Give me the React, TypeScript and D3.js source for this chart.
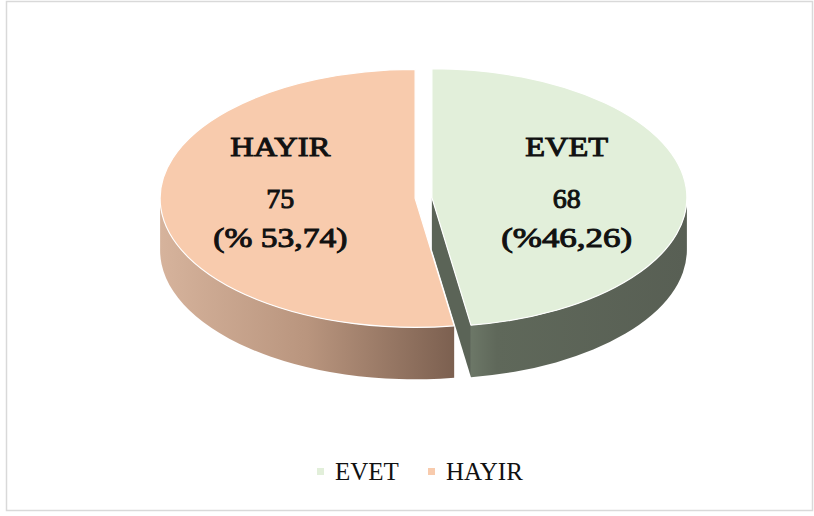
import React from "react";
import * as d3 from "d3";

const categories = ["EVET", "HAYIR"];
const values = [68, 75];
const valueLabels = ["68", "75"];
const percentLabels = ["(%46,26)", "(% 53,74)"];

const topColors = ["#E2EFDA", "#F8CBAD"];
const sideStops = [
  [
    [0, "#6C7767"],
    [0.12, "#5F685A"],
    [1, "#585F54"],
  ],
  [
    [0, "#D6B39C"],
    [0.5, "#B9957E"],
    [1, "#7C6050"],
  ],
];
const wallColors = ["#5B6457", "#8A6D5B"];

export default function App() {
  const W = 814;
  const H = 516;
  const cx = 423.5;
  const cy = 198;
  const Rx = 255;
  const Ry = 129;
  const depth = 52;
  const explode = 0.033;
  const labelR = 0.53;

  const arcs = d3
    .pie<number>()
    .sort(null)
    .startAngle(0)
    .endAngle(2 * Math.PI)
    .value((d) => d)(values);

  const color = d3.scaleOrdinal<string, string>().domain(categories).range(topColors);

  const slices = arcs.map((a, i) => {
    const mid = (a.startAngle + a.endAngle) / 2;
    const ox = explode * Rx * Math.sin(mid);
    const oy = -explode * Ry * Math.cos(mid);
    const P = (t: number, h = 0): [number, number] => [
      cx + ox + Rx * Math.sin(t),
      cy + oy - Ry * Math.cos(t) + h,
    ];
    const apex: [number, number] = [cx + ox, cy + oy];
    const a0 = a.startAngle;
    const a1 = a.endAngle;
    const large = a1 - a0 > Math.PI ? 1 : 0;
    const p0 = P(a0);
    const p1 = P(a1);
    const top = `M${apex[0]},${apex[1]}L${p0[0]},${p0[1]}A${Rx},${Ry} 0 ${large} 1 ${p1[0]},${p1[1]}Z`;

    const s0 = Math.max(a0, Math.PI / 2);
    const s1 = Math.min(a1, (3 * Math.PI) / 2);
    let side = "";
    if (s1 > s0) {
      const q0 = P(s0);
      const q1 = P(s1);
      const q1b = P(s1, depth);
      const q0b = P(s0, depth);
      const lg = s1 - s0 > Math.PI ? 1 : 0;
      side = `M${q0[0]},${q0[1]}A${Rx},${Ry} 0 ${lg} 1 ${q1[0]},${q1[1]}L${q1b[0]},${q1b[1]}A${Rx},${Ry} 0 ${lg} 0 ${q0b[0]},${q0b[1]}Z`;
    }
    const walls: string[] = [];
    const wallAt = (t: number) => {
      const w = P(t);
      const wb = P(t, depth);
      return `M${apex[0]},${apex[1]}L${w[0]},${w[1]}L${wb[0]},${wb[1]}L${apex[0]},${apex[1] + depth}Z`;
    };
    if (Math.sin(a1) > 0.01) walls.push(wallAt(a1));
    if (Math.sin(a0) < -0.01) walls.push(wallAt(a0));

    const xs0 = P(s0)[0];
    const xs1 = P(s1)[0];
    return {
      i,
      top,
      side,
      walls,
      gx0: Math.min(xs0, xs1),
      gx1: Math.max(xs0, xs1),
      lx: cx + ox + labelR * Rx * Math.sin(mid),
      ly: cy,
    };
  });

  const nameLen = [83, 100];
  const pctLen = [131, 134];
  const serif = "'Liberation Serif', 'Times New Roman', Times, serif";

  return (
    <svg
      width={W}
      height={H}
      style={{ position: "absolute", left: 0, top: 0, background: "#fff" }}
    >
      <defs>
        {slices.map((s) => (
          <linearGradient
            key={s.i}
            id={`g${s.i}`}
            gradientUnits="userSpaceOnUse"
            x1={s.gx0}
            x2={s.gx1}
            y1={0}
            y2={0}
          >
            {sideStops[s.i].map(([o, c], k) => (
              <stop key={k} offset={o as number} stopColor={c as string} />
            ))}
          </linearGradient>
        ))}
      </defs>
      <rect x={6.5} y={1.5} width={806} height={509} fill="#fff" stroke="#D9D9D9" strokeWidth={1.5} />
      {slices.map((s) => (
        <g key={`w${s.i}`}>
          {s.walls.map((w, k) => (
            <path key={k} d={w} fill={wallColors[s.i]} />
          ))}
          {s.side && <path d={s.side} fill={`url(#g${s.i})`} />}
        </g>
      ))}
      {slices.map((s) => (
        <path
          key={`t${s.i}`}
          d={s.top}
          fill={color(categories[s.i])}
          stroke="#fff"
          strokeWidth={1.2}
          strokeLinejoin="round"
        />
      ))}
      {slices.map((s) => (
        <g
          key={`l${s.i}`}
          fontFamily={serif}
          fontSize={28}
          fill="#111"
          stroke="#111"
          strokeWidth={1}
          textAnchor="middle"
        >
          <text x={s.lx} y={s.ly - 42} textLength={nameLen[s.i]} lengthAdjust="spacingAndGlyphs">
            {categories[s.i]}
          </text>
          <text x={s.lx} y={s.ly + 10}>
            {valueLabels[s.i]}
          </text>
          <text x={s.lx} y={s.ly + 49} textLength={pctLen[s.i]} lengthAdjust="spacingAndGlyphs">
            {percentLabels[s.i]}
          </text>
        </g>
      ))}
      <g fontFamily={serif} fontSize={25} fill="#111">
        {categories.map((c, i) => {
          const x = [317, 428][i];
          return (
            <g key={c}>
              <rect x={x} y={468} width={7} height={7} fill={color(c)} />
              <text x={x + 18} y={480}>
                {c}
              </text>
            </g>
          );
        })}
      </g>
    </svg>
  );
}
